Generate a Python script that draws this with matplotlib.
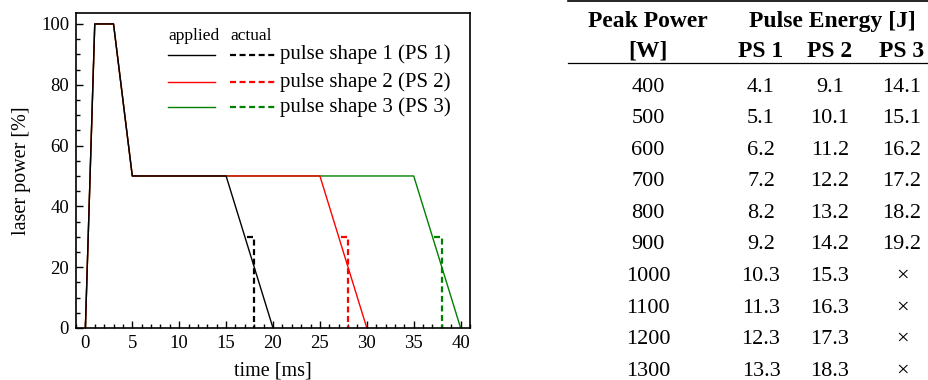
import matplotlib
matplotlib.use("Agg")
import matplotlib.pyplot as plt
from matplotlib.lines import Line2D
from matplotlib.ticker import MultipleLocator

# applied pulse shapes: time [ms], laser power [%]
applied_t = [
    [0, 1, 3, 5, 15, 20],
    [0, 1, 3, 5, 25, 30],
    [0, 1, 3, 5, 35, 40],
]
applied_p = [
    [0, 100, 100, 50, 50, 0],
    [0, 100, 100, 50, 50, 0],
    [0, 100, 100, 50, 50, 0],
]
# actual cut-off (dashed)
actual_t = [
    [17.2, 18, 18],
    [27.2, 28, 28],
    [37.2, 38, 38],
]
actual_p = [
    [30, 30, 0],
    [30, 30, 0],
    [30, 30, 0],
]
colors = ["black", "#ff0000", "#008000"]
labels = ["pulse shape 1 (PS 1)", "pulse shape 2 (PS 2)", "pulse shape 3 (PS 3)"]

# table
peak_power = ["400", "500", "600", "700", "800", "900", "1000", "1100", "1200", "1300"]
ps1 = ["4.1", "5.1", "6.2", "7.2", "8.2", "9.2", "10.3", "11.3", "12.3", "13.3"]
ps2 = ["9.1", "10.1", "11.2", "12.2", "13.2", "14.2", "15.3", "16.3", "17.3", "18.3"]
ps3 = ["14.1", "15.1", "16.2", "17.2", "18.2", "19.2", "×", "×", "×", "×"]

plt.rcParams["font.family"] = ["Liberation Serif", "DejaVu Serif"]
W, H = 929, 380
fig = plt.figure(figsize=(W / 100, H / 100), dpi=100)

ax = fig.add_axes([76 / W, 1 - 328 / H, 394 / W, 315 / H])
# longest shape first so the shared part ends up black
for i in reversed(range(3)):
    ax.plot(applied_t[i], applied_p[i], color=colors[i], lw=1.0)
for i in range(3):
    ax.plot(actual_t[i], actual_p[i], color=colors[i], lw=1.6, dashes=(2.7, 1.6))

ax.set_xlim(-1, 41)
ax.set_ylim(0, 103.6)
ax.xaxis.set_major_locator(MultipleLocator(5))
ax.xaxis.set_minor_locator(MultipleLocator(1))
ax.yaxis.set_major_locator(MultipleLocator(20))
ax.yaxis.set_minor_locator(MultipleLocator(5))
ax.tick_params(which="both", direction="in", labelsize=13.5, top=False, right=False)
ax.tick_params(which="major", length=5, width=1, pad=5)
ax.tick_params(which="minor", length=3, width=1)
for s in ax.spines.values():
    s.set_linewidth(1.2)
ax.set_xlabel("time [ms]", fontsize=14.5, labelpad=7)
ax.set_ylabel("laser power [%]", fontsize=14.5, labelpad=7)

# hand-made legend
ax.text(0.2335, 0.914, "applied", transform=ax.transAxes, fontsize=12.5, va="baseline")
ax.text(0.391, 0.914, "actual", transform=ax.transAxes, fontsize=12.5, va="baseline")
rows_y = [0.868, 0.782, 0.702]
for i in range(3):
    ax.add_line(Line2D([0.2335, 0.353], [rows_y[i], rows_y[i]], transform=ax.transAxes,
                       color=colors[i], lw=1.0))
    ax.add_line(Line2D([0.391, 0.505], [rows_y[i], rows_y[i]], transform=ax.transAxes,
                       color=colors[i], lw=1.6, dashes=(2.7, 1.6)))
    ax.text(0.518, rows_y[i], labels[i], transform=ax.transAxes, fontsize=15, va="center")

# table on the right
def fx(px):
    return px / W

def fy(py):
    return 1 - py / H

fig.add_artist(Line2D([fx(568), fx(929)], [fy(1), fy(1)], color="black", lw=1.2))
fig.add_artist(Line2D([fx(568), fx(929)], [fy(63), fy(63)], color="black", lw=0.9))

fs = 16
hfs = 17
fig.text(fx(648), fy(27), "Peak Power", ha="center", va="baseline", fontsize=hfs, fontweight="bold")
fig.text(fx(832), fy(27), "Pulse Energy [J]", ha="center", va="baseline", fontsize=hfs, fontweight="bold")
fig.text(fx(648), fy(57), "[W]", ha="center", va="baseline", fontsize=hfs, fontweight="bold")
col_x = [761, 830, 902]
for cx, name in zip(col_x, ["PS 1", "PS 2", "PS 3"]):
    fig.text(fx(cx), fy(57), name, ha="center", va="baseline", fontsize=hfs, fontweight="bold")

for r in range(len(peak_power)):
    by = fy(91.7 + r * 31.55)
    fig.text(fx(648), by, peak_power[r], ha="center", va="baseline", fontsize=fs)
    fig.text(fx(col_x[0]), by, ps1[r], ha="center", va="baseline", fontsize=fs)
    fig.text(fx(col_x[1]), by, ps2[r], ha="center", va="baseline", fontsize=fs)
    fig.text(fx(col_x[2]), by, ps3[r], ha="center", va="baseline", fontsize=fs)

fig.savefig("out.png", dpi=100)
